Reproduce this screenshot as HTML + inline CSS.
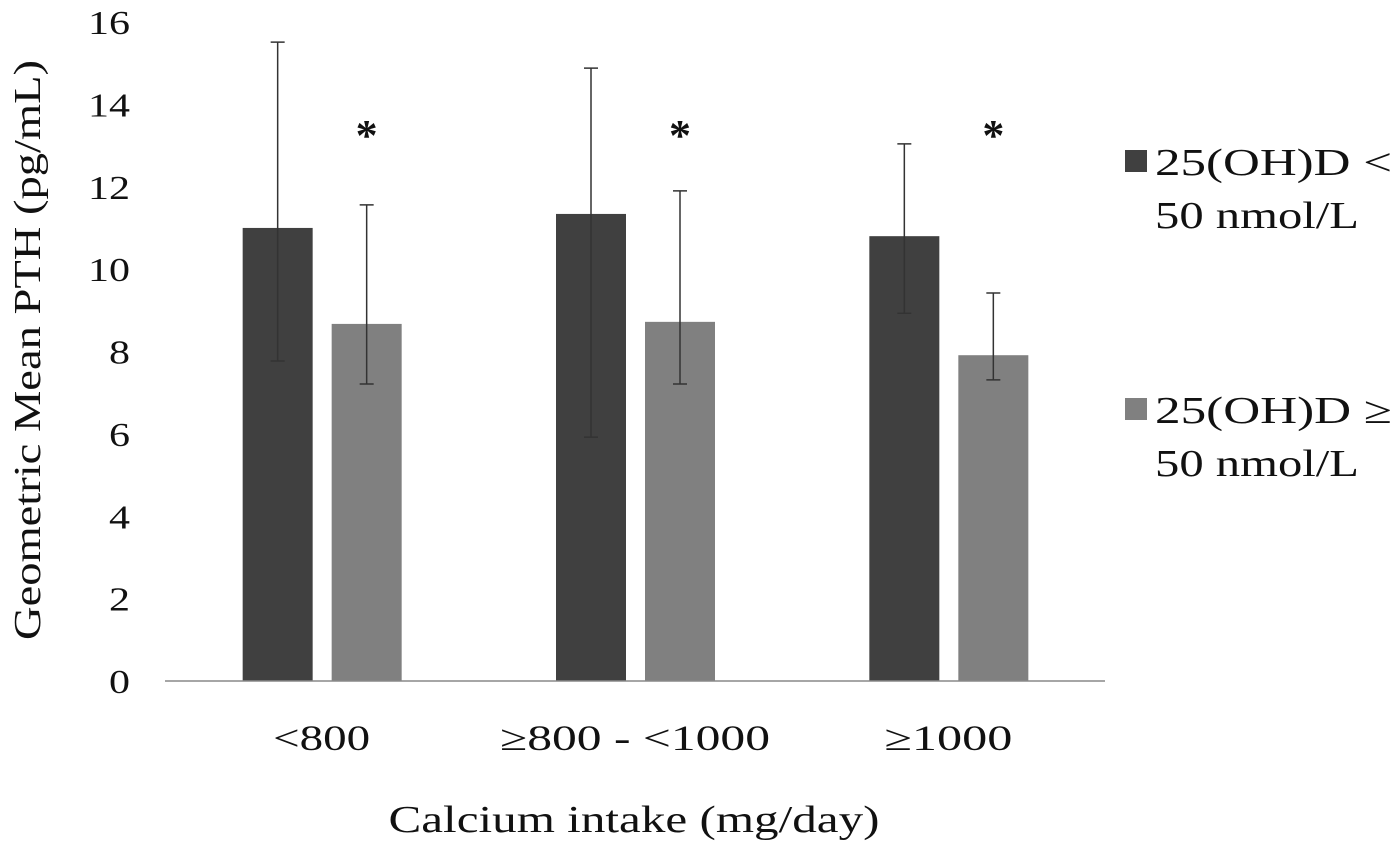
<!DOCTYPE html>
<html><head><meta charset="utf-8"><style>
html,body{margin:0;padding:0;background:#fff;}
svg text{font-family:"Liberation Serif",serif;fill:#111;}
</style></head><body>
<svg id="chart" width="1400" height="844" xmlns="http://www.w3.org/2000/svg"></svg>
<script>
const categories = ["<800", "\u2265800 - <1000", "\u22651000"];
const seriesNames = ["25(OH)D < 50 nmol/L", "25(OH)D \u2265 50 nmol/L"];
const lowVitD = [11.0, 11.34, 10.8];
const highVitD = [8.67, 8.72, 7.91];
const lowVitDUpper = [15.51, 14.88, 13.04];
const lowVitDLower = [7.77, 5.92, 8.93];
const highVitDUpper = [11.56, 11.9, 9.42];
const highVitDLower = [7.21, 7.21, 7.31];
const significant = [true, true, true];
const yTicks = [0, 2, 4, 6, 8, 10, 12, 14, 16];

const NS = "http://www.w3.org/2000/svg";
const svg = document.getElementById("chart");
const x0 = 165, x1 = 1105, yBase = 681, yTop = 22, yMax = 16;
const yScale = v => yBase - v / yMax * (yBase - yTop);
const groupW = (x1 - x0) / categories.length;
const groupCenter = i => x0 + groupW * (i + 0.5);
const barW = 70;
const xLabelLens = [97, 270, 128];
function mk(tag, attrs, txt) {
  const e = document.createElementNS(NS, tag);
  for (const k in attrs) e.setAttribute(k, attrs[k]);
  if (txt !== undefined) e.textContent = txt;
  svg.appendChild(e);
  return e;
}
yTicks.forEach(t => {
  const s = String(t);
  const e = mk("text", {x: 130, y: yScale(t) + 12, "text-anchor": "end", "font-size": 34, textLength: s.length * 21, lengthAdjust: "spacingAndGlyphs"}, s);
  
  
});
const yt = mk("text", {x: 0, y: 0, transform: "translate(40,350) rotate(-90)", "text-anchor": "middle", "font-size": 38, textLength: 580, lengthAdjust: "spacingAndGlyphs"}, "Geometric Mean PTH (pg/mL)");


const series = [
  {vals: lowVitD, up: lowVitDUpper, lo: lowVitDLower, color: "#404040", off: -79},
  {vals: highVitD, up: highVitDUpper, lo: highVitDLower, color: "#808080", off: 10}
];
categories.forEach((c, i) => {
  const cx = groupCenter(i);
  series.forEach((s, si) => {
    const bx = cx + s.off;
    const r = mk("rect", {x: bx, y: yScale(s.vals[i]), width: barW, height: yBase - yScale(s.vals[i]), fill: s.color});
    
    
    const mx = bx + barW / 2;
    const g = mk("path", {d: `M${mx},${yScale(s.up[i])}V${yScale(s.lo[i])}M${mx-7},${yScale(s.up[i])}H${mx+7}M${mx-7},${yScale(s.lo[i])}H${mx+7}`, stroke: "#333", "stroke-width": 1.5, fill: "none"});
    
    
    if (si === 1 && significant[i]) {
      const st = mk("text", {x: mx, y: 150, "text-anchor": "middle", "font-size": 44, "font-weight": "bold"}, "*");
      
      
    }
  });
  const lbl = mk("text", {x: cx, y: 750, "text-anchor": "middle", "font-size": 36, textLength: xLabelLens[i], lengthAdjust: "spacingAndGlyphs"}, c);
  
  
});
const ax = mk("line", {x1: x0, x2: x1, y1: yBase, y2: yBase, stroke: "#888", "stroke-width": 1.5});


const xt = mk("text", {x: 634, y: 832, "text-anchor": "middle", "font-size": 38, textLength: 491, lengthAdjust: "spacingAndGlyphs"}, "Calcium intake (mg/day)");


const legY = [150, 398];
const legLines = [["25(OH)D <", "50 nmol/L"], ["25(OH)D \u2265", "50 nmol/L"]];
const legLens = [[237, 204], [237, 204]];
series.forEach((s, si) => {
  const sw = mk("rect", {x: 1125, y: legY[si], width: 22, height: 22, fill: s.color});
  
  
  legLines[si].forEach((ln, li) => {
    const t = mk("text", {x: 1155, y: legY[si] + 25 + li * 53, "font-size": 38, textLength: legLens[si][li], lengthAdjust: "spacingAndGlyphs"}, ln);
    
    
  });
});
</script>
</body></html>
